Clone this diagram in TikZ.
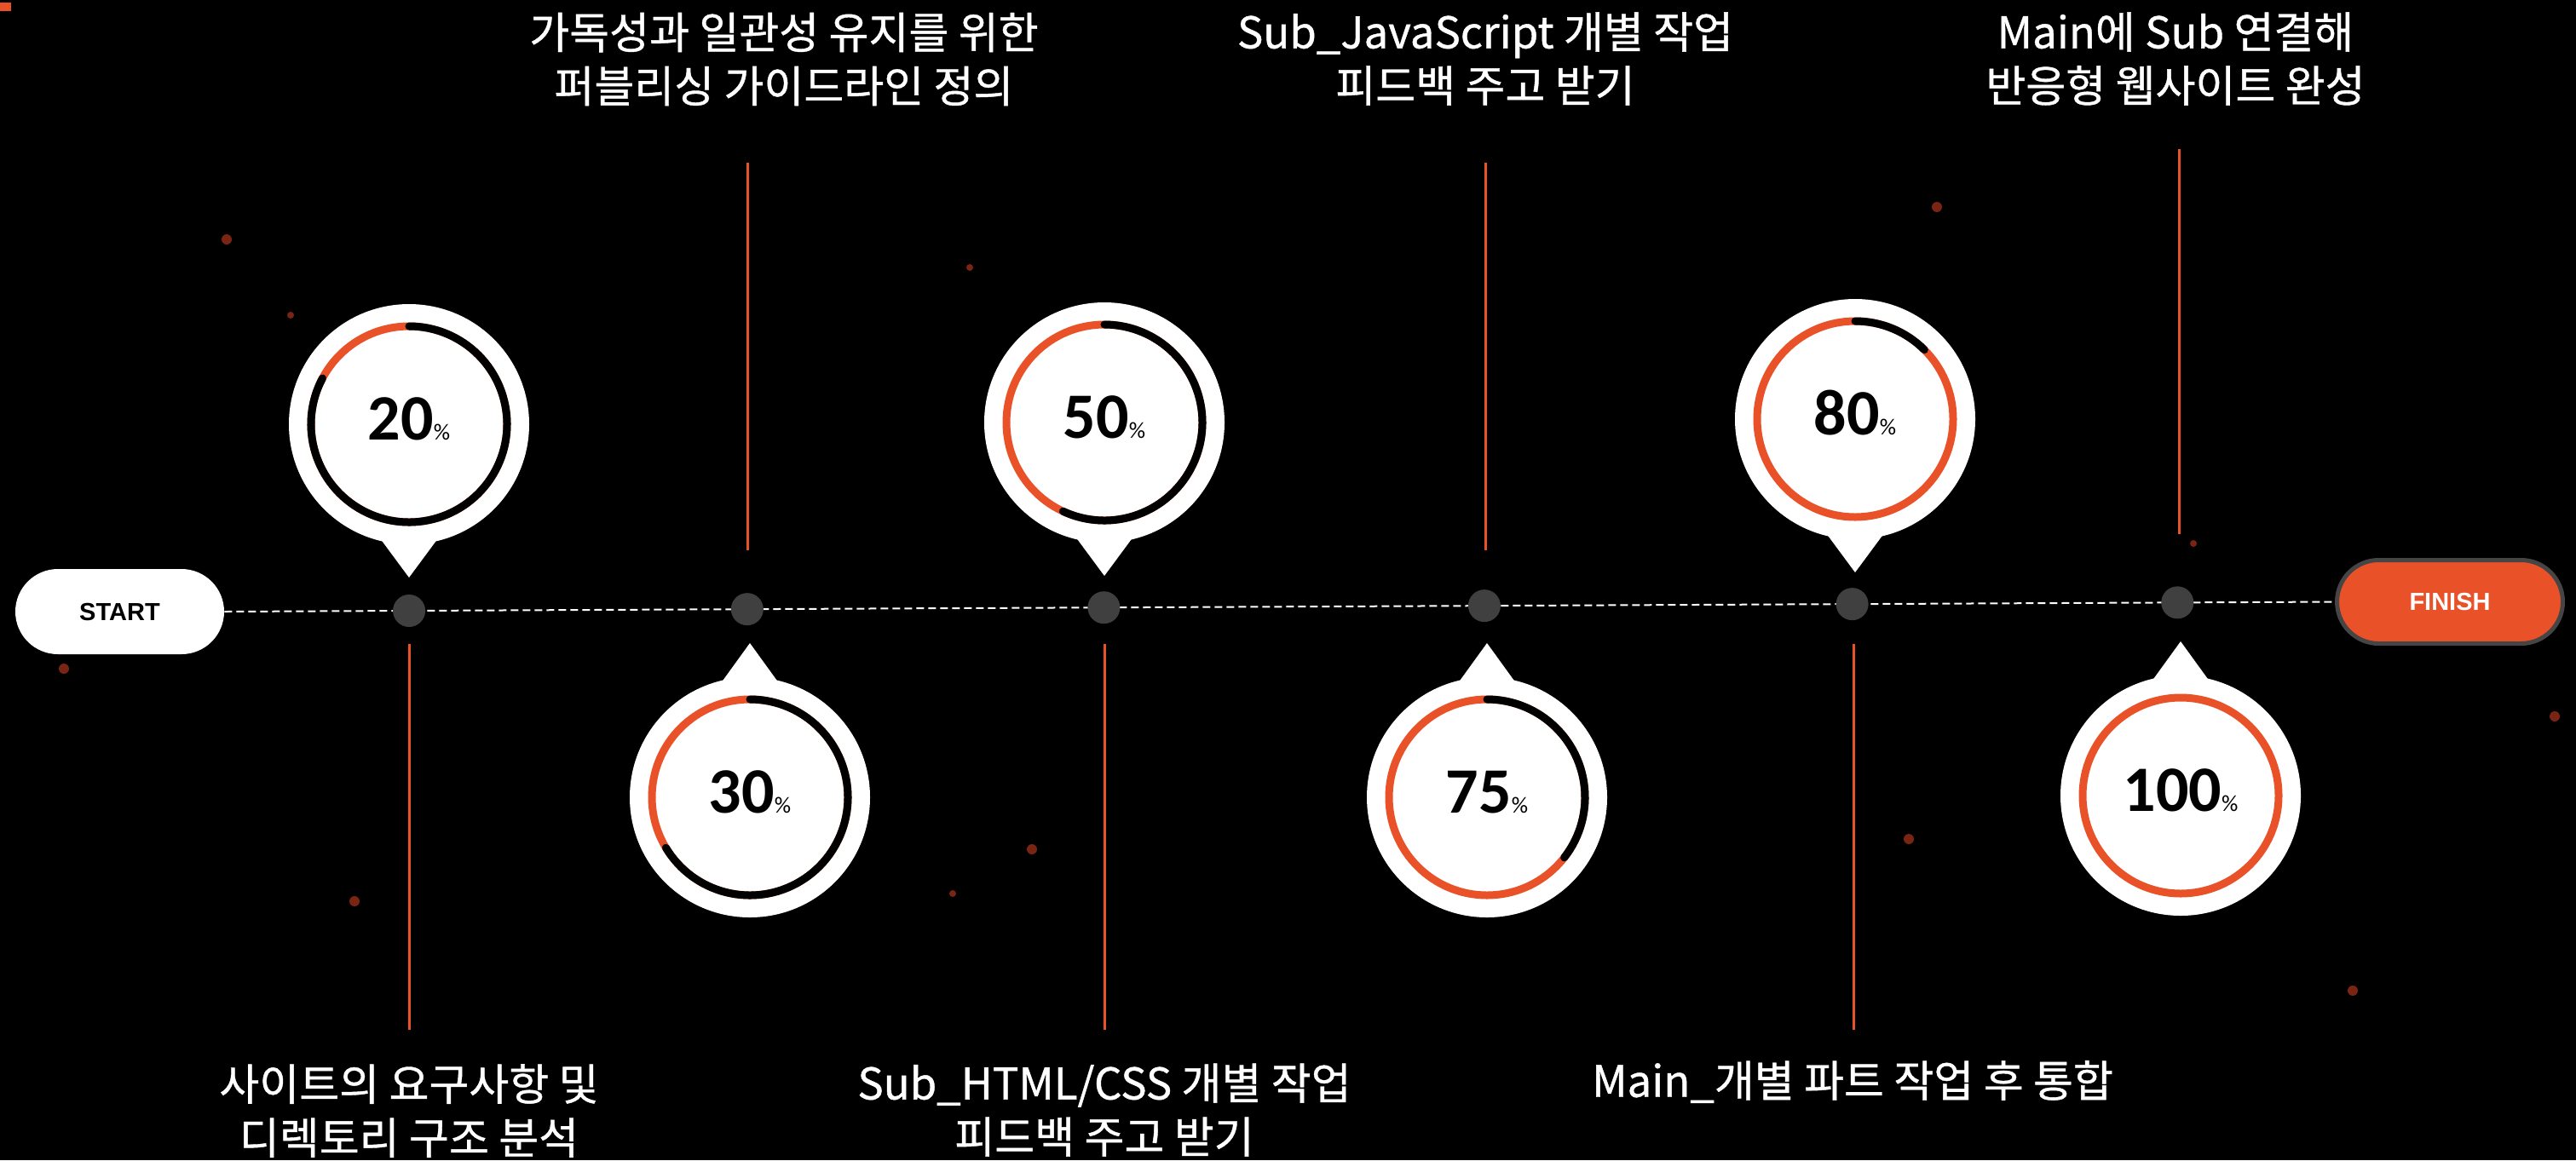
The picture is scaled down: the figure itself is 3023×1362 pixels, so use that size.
\documentclass[tikz,border=0pt]{standalone}
\usepackage{fontspec}
\setmainfont{Carlito}
\newfontfamily\kr[FakeBold=0.8]{Noto Sans CJK KR}
\newfontfamily\pillfont{Liberation Sans}
\usetikzlibrary{calc}
\definecolor{accent}{HTML}{E95228}
\definecolor{dotgray}{HTML}{404040}
\definecolor{pillborder}{HTML}{454545}
\definecolor{ember}{HTML}{7A2414}
\newcommand\pctsign{{\fontsize{13.5}{13.5}\selectfont\mdseries\%}}
\begin{document}
\begin{tikzpicture}[x=0.5pt,y=0.5pt,
  startpill/.style={fill=white, rounded corners=25pt, minimum width=122.5pt, minimum height=50pt, inner sep=0pt, font=\pillfont\bfseries\fontsize{14.5}{14.5}\selectfont, text=black},
  finishpill/.style={fill=accent, draw=pillborder, line width=2.5pt, rounded corners=24.5pt, minimum width=132.5pt, minimum height=49pt, inner sep=0pt, font=\pillfont\bfseries\fontsize{14.5}{14.5}\selectfont, text=white},
  timeline/.style={white, line width=1pt, dash pattern=on 4.5pt off 2.5pt},
  tdot/.style={circle, fill=dotgray, minimum size=19pt, inner sep=0pt},
  vline/.style={accent, line width=1.5pt},
  bubble/.style={fill=white},
  ringbase/.style={accent, line width=4.5pt},
  ringrest/.style={black, line width=4.5pt, line cap=round},
  pct/.style={anchor=base, inner sep=0pt, font=\bfseries\fontsize{38}{38}\selectfont, text=black},
  caption/.style={inner sep=0pt, align=center, text=white, font=\kr\fontsize{25.5}{31.5}\selectfont}
]
% background and bounds
\fill[black] (0,0) rectangle (3023,-1362);
\useasboundingbox (0,0) rectangle (3023,-1362);
\fill[accent] (0,-3) rectangle (13,-13);

% embers
\foreach \ex/\ey/\er in {266/281/6, 341/370/4, 1138/314/4, 2273/243/6, 75/785/6, 416/1058/6, 1211/997/6, 1118/1049/4, 2240/985/6, 2574/638/4, 2998/841/6, 2761/1163/6}{
  \fill[ember] (\ex,-\ey) circle (\er);
}

% start / finish
\node[startpill] (start) at (140.5,-718) {START};
\node[finishpill] (finish) at (2875,-706.5) {FINISH};
\draw[timeline] (start.east) -- (finish.west);

% timeline dots
\node[tdot] (d1) at ($(start.east)!0.0875!(finish.west)$) {};
\node[tdot] (d2) at ($(start.east)!0.2477!(finish.west)$) {};
\node[tdot] (d3) at ($(start.east)!0.4167!(finish.west)$) {};
\node[tdot] (d4) at ($(start.east)!0.5970!(finish.west)$) {};
\node[tdot] (d5) at ($(start.east)!0.7713!(finish.west)$) {};
\node[tdot] (d6) at ($(start.east)!0.9254!(finish.west)$) {};

% vertical accent lines
\coordinate (l1a) at (480,-756);  \coordinate (l1b) at (480,-1209);
\coordinate (l2a) at (877,-191);  \coordinate (l2b) at (877,-646);
\coordinate (l3a) at (1296,-756); \coordinate (l3b) at (1296,-1209);
\coordinate (l4a) at (1743,-191); \coordinate (l4b) at (1743,-646);
\coordinate (l5a) at (2175,-756); \coordinate (l5b) at (2175,-1209);
\coordinate (l6a) at (2557,-175); \coordinate (l6b) at (2557,-627);
\draw[vline] (l1a) -- (l1b);
\draw[vline] (l2a) -- (l2b);
\draw[vline] (l3a) -- (l3b);
\draw[vline] (l4a) -- (l4b);
\draw[vline] (l5a) -- (l5b);
\draw[vline] (l6a) -- (l6b);

% bubble centres
\coordinate (c20) at (480,-498);
\coordinate (c30) at (880,-936);
\coordinate (c50) at (1296,-496);
\coordinate (c75) at (1745,-936);
\coordinate (c80) at (2177,-492);
\coordinate (c100) at (2559,-934);

% downward bubbles
\foreach \c in {c20,c50,c80}{
  \fill[bubble] (\c) circle (141);
  \fill[bubble] ($(\c)+(-34,-134)$) -- ($(\c)+(0,-180)$) -- ($(\c)+(34,-134)$) -- cycle;
}
% upward bubbles
\foreach \c in {c30,c75,c100}{
  \fill[bubble] (\c) circle (141);
  \fill[bubble] ($(\c)+(-34,134)$) -- ($(\c)+(0,181)$) -- ($(\c)+(34,134)$) -- cycle;
}

% rings
\foreach \c in {c20,c30,c50,c75,c80,c100}{
  \draw[ringbase] (\c) circle (115);
}
\draw[ringrest] ($(c20)+(152:115)$) arc[start angle=152, end angle=450, radius=115];
\draw[ringrest] ($(c30)+(211:115)$) arc[start angle=211, end angle=450, radius=115];
\draw[ringrest] ($(c50)+(245:115)$) arc[start angle=245, end angle=450, radius=115];
\draw[ringrest] ($(c75)+(-38:115)$) arc[start angle=-38, end angle=90, radius=115];
\draw[ringrest] ($(c80)+(45:115)$) arc[start angle=45, end angle=90, radius=115];

% percentages
\node[pct] (p20) at ($(c20)+(0,-18)$) {20\pctsign};
\node[pct] (p30) at ($(c30)+(0,-18)$) {30\pctsign};
\node[pct] (p50) at ($(c50)+(0,-18)$) {50\pctsign};
\node[pct] (p75) at ($(c75)+(0,-18)$) {75\pctsign};
\node[pct] (p80) at ($(c80)+(0,-18)$) {80\pctsign};
\node[pct] (p100) at ($(c100)+(0,-18)$) {100\pctsign};

% captions
\node[caption] (t1) at (480,-1304) {사이트의 요구사항 및\\디렉토리 구조 분석};
\node[caption] (t2) at (920,-69.5) {가독성과 일관성 유지를 위한\\퍼블리싱 가이드라인 정의};
\node[caption] (t3) at (1296,-1303) {Sub\_HTML/CSS 개별 작업\\피드백 주고 받기};
\node[caption] (t4) at (1743,-69) {Sub\_JavaScript 개별 작업\\피드백 주고 받기};
\node[caption] (t5) at (2174,-1270) {Main\_개별 파트 작업 후 통합};
\node[caption] (t6) at (2553,-69) {Main에 Sub 연결해\\반응형 웹사이트 완성};
\end{tikzpicture}
\end{document}
